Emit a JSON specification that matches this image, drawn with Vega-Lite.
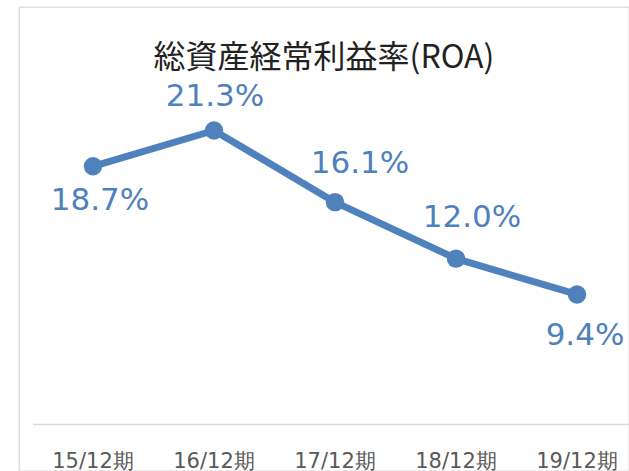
{
  "$schema": "https://vega.github.io/schema/vega-lite/v6.json",
  "autosize": "none",
  "padding": {"left": 19, "top": 7, "right": 0, "bottom": 0},
  "width": 610,
  "height": 464,
  "background": "white",
  "config": {
    "view": {"stroke": "#d9d9d9", "strokeWidth": 1.3},
    "font": "DejaVu Sans"
  },
  "title": {
    "text": "総資産経常利益率(ROA)",
    "font": "Noto Sans CJK JP",
    "fontSize": 32,
    "fontWeight": "normal",
    "color": "#222222",
    "anchor": "middle",
    "frame": "group",
    "baseline": "top",
    "offset": 0,
    "dy": 68
  },
  "data": {
    "values": [
      {"period": "15/12期", "roa": 18.7, "label": "18.7%"},
      {"period": "16/12期", "roa": 21.3, "label": "21.3%"},
      {"period": "17/12期", "roa": 16.1, "label": "16.1%"},
      {"period": "18/12期", "roa": 12.0, "label": "12.0%"},
      {"period": "19/12期", "roa": 9.4, "label": "9.4%"}
    ]
  },
  "encoding": {
    "x": {
      "field": "period",
      "type": "nominal",
      "sort": null,
      "scale": {"type": "band", "range": [13.5, 618.5], "paddingInner": 0, "paddingOuter": 0},
      "axis": {
        "title": null,
        "labelAngle": 0,
        "offset": -47,
        "domainColor": "#d9d9d9",
        "domainWidth": 1.3,
        "ticks": false,
        "tickSize": 0,
        "labelPadding": 26,
        "labelFont": "DejaVu Sans",
        "labelFontSize": 21,
        "labelColor": "#595959",
        "labelBaseline": "top"
      }
    },
    "y": {
      "field": "roa",
      "type": "quantitative",
      "scale": {"domain": [0, 25], "range": [417, 72.5], "nice": false, "zero": true},
      "axis": null
    }
  },
  "layer": [
    {"mark": {"type": "line", "color": "#4F81BD", "strokeWidth": 7, "strokeJoin": "round"}},
    {"mark": {"type": "point", "filled": true, "opacity": 1, "color": "#4F81BD", "size": 340}},
    {
      "transform": [{"filter": "datum.period == '15/12期'"}],
      "mark": {"type": "text", "color": "#4F81BD", "fontSize": 31, "font": "DejaVu Sans", "align": "center", "baseline": "middle", "dx": 7, "dy": 35},
      "encoding": {"text": {"field": "label"}}
    },
    {
      "transform": [{"filter": "datum.period == '16/12期'"}],
      "mark": {"type": "text", "color": "#4F81BD", "fontSize": 31, "font": "DejaVu Sans", "align": "center", "baseline": "middle", "dx": 1, "dy": -33},
      "encoding": {"text": {"field": "label"}}
    },
    {
      "transform": [{"filter": "datum.period == '17/12期'"}],
      "mark": {"type": "text", "color": "#4F81BD", "fontSize": 31, "font": "DejaVu Sans", "align": "center", "baseline": "middle", "dx": 25, "dy": -38},
      "encoding": {"text": {"field": "label"}}
    },
    {
      "transform": [{"filter": "datum.period == '18/12期'"}],
      "mark": {"type": "text", "color": "#4F81BD", "fontSize": 31, "font": "DejaVu Sans", "align": "center", "baseline": "middle", "dx": 16, "dy": -41},
      "encoding": {"text": {"field": "label"}}
    },
    {
      "transform": [{"filter": "datum.period == '19/12期'"}],
      "mark": {"type": "text", "color": "#4F81BD", "fontSize": 31, "font": "DejaVu Sans", "align": "center", "baseline": "middle", "dx": 8, "dy": 42},
      "encoding": {"text": {"field": "label"}}
    }
  ]
}
